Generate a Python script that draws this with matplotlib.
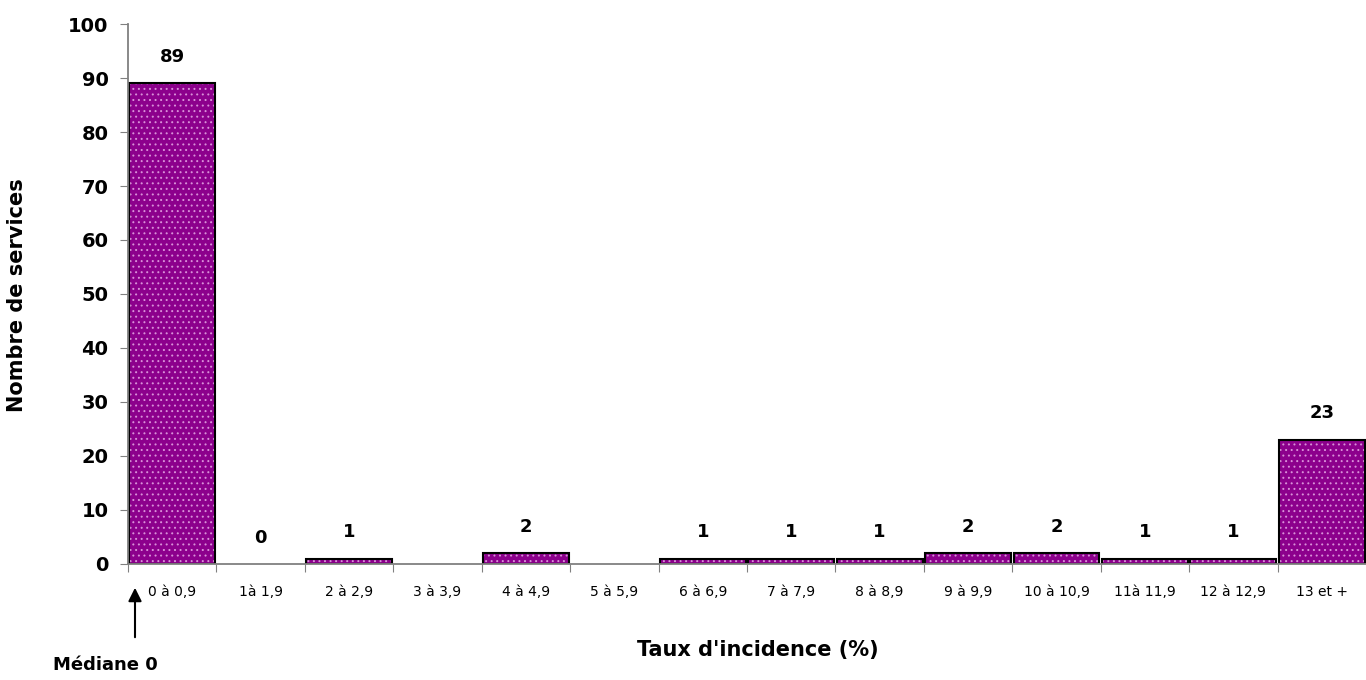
import matplotlib
matplotlib.use('Agg')
from matplotlib import pyplot as plt
import numpy as np

categories = ['0 à 0,9', '1à 1,9', '2 à 2,9', '3 à 3,9', '4 à 4,9', '5 à 5,9', '6 à 6,9',
              '7 à 7,9', '8 à 8,9', '9 à 9,9', '10 à 10,9', '11à 11,9', '12 à 12,9', '13 et +']
values = [89, 0, 1, np.nan, 2, np.nan, 1, 1, 1, 2, 2, 1, 1, 23]
ylabel = 'Nombre de services'
xlabel = "Taux d'incidence (%)"
median_text = 'Médiane 0'

plt.rcParams['hatch.linewidth'] = 0.7

fig = plt.figure(figsize=(13.66, 6.8), dpi=100)
ax = fig.add_axes([0.0937, 0.1706, 0.9063, 0.7941])

x = np.arange(len(categories))
vals = np.array(values, dtype=float)
heights = np.where(np.nan_to_num(vals) > 0, np.nan_to_num(vals), np.nan)
# fill with light dotted pattern, then black outline on top
ax.bar(x, heights, width=0.97, color='#8c008c', edgecolor='#d890d8',
       linewidth=0, hatch='...')
ax.bar(x, heights, width=0.97, fill=False, edgecolor='black', linewidth=1.5)
for xi, v in zip(x, vals):
    if np.isnan(v):
        continue
    ax.annotate('%d' % v, (xi, v), xytext=(0, 19), textcoords='offset points',
                ha='center', va='center', fontsize=13, fontweight='bold')

ax.set_xlim(-0.5, len(categories) - 0.5)
ax.set_ylim(0, 100)
ax.set_yticks(range(0, 101, 10))
ax.set_yticklabels([str(v) for v in range(0, 101, 10)], fontsize=14, fontweight='bold')
ax.set_xticks(x - 0.5, minor=False)
ax.set_xticklabels([''] * len(x))
ax.set_xticks(x, minor=True)
ax.set_xticklabels(categories, minor=True, fontsize=10)
ax.tick_params(axis='x', which='minor', length=0, pad=15)
ax.tick_params(axis='x', which='major', length=6, color='#808080')
ax.tick_params(axis='y', length=6, color='#808080', pad=8)

for s in ['top', 'right']:
    ax.spines[s].set_visible(False)
for s in ['left', 'bottom']:
    ax.spines[s].set_color('#808080')
    ax.spines[s].set_linewidth(1.3)

fig.text(17 / 1366, 1 - 295 / 680, ylabel, rotation=90, ha='center', va='center',
         fontsize=15, fontweight='bold')
fig.text(0.555, 1 - 650 / 680, xlabel, ha='center', va='center', fontsize=15, fontweight='bold')

ax.annotate('', xy=(135 / 1366, 1 - 585 / 680), xytext=(135 / 1366, 1 - 640 / 680),
            xycoords='figure fraction', textcoords='figure fraction',
            arrowprops=dict(arrowstyle='-|>', color='black', lw=1.5, mutation_scale=20))
fig.text(105 / 1366, 1 - 665 / 680, median_text, ha='center', va='center',
         fontsize=13, fontweight='bold')

fig.savefig('out.png', dpi=100)
